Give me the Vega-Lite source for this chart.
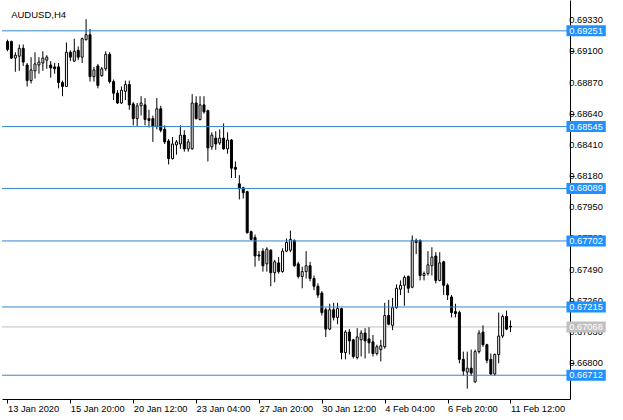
{
"$schema":"https://vega.github.io/schema/vega-lite/v6.json",
"width":568,"height":399,
"autosize":{"type":"none"},
"padding":{"left":2,"top":0,"right":53,"bottom":21},
"background":"white",
"config":{"view":{"stroke":null}},
"datasets":{
"bars":[
{"i":0,"o":0.69172,"h":0.69186,"l":0.69100,"c":0.69114},
{"i":1,"o":0.69172,"h":0.69179,"l":0.69043,"c":0.69050},
{"i":2,"o":0.69050,"h":0.69093,"l":0.68949,"c":0.69071},
{"i":3,"o":0.69064,"h":0.69150,"l":0.68956,"c":0.69122},
{"i":4,"o":0.69122,"h":0.69150,"l":0.68992,"c":0.69021},
{"i":5,"o":0.68999,"h":0.69014,"l":0.68841,"c":0.68884},
{"i":6,"o":0.68884,"h":0.69057,"l":0.68863,"c":0.68963},
{"i":7,"o":0.68956,"h":0.69093,"l":0.68899,"c":0.69007},
{"i":8,"o":0.68999,"h":0.69057,"l":0.68935,"c":0.69021},
{"i":9,"o":0.69014,"h":0.69100,"l":0.68956,"c":0.69050},
{"i":10,"o":0.69035,"h":0.69071,"l":0.68971,"c":0.69057},
{"i":11,"o":0.68999,"h":0.69028,"l":0.68906,"c":0.68978},
{"i":12,"o":0.68985,"h":0.69014,"l":0.68935,"c":0.68971},
{"i":13,"o":0.68985,"h":0.69014,"l":0.68827,"c":0.68870},
{"i":14,"o":0.68870,"h":0.68884,"l":0.68769,"c":0.68841},
{"i":15,"o":0.68841,"h":0.69165,"l":0.68841,"c":0.69093},
{"i":16,"o":0.69093,"h":0.69107,"l":0.69028,"c":0.69057},
{"i":17,"o":0.69028,"h":0.69193,"l":0.69021,"c":0.69100},
{"i":18,"o":0.69107,"h":0.69136,"l":0.69035,"c":0.69057},
{"i":19,"o":0.69057,"h":0.69201,"l":0.69014,"c":0.69193},
{"i":20,"o":0.69186,"h":0.69337,"l":0.69179,"c":0.69222},
{"i":21,"o":0.69222,"h":0.69265,"l":0.68877,"c":0.68913},
{"i":22,"o":0.68913,"h":0.68985,"l":0.68877,"c":0.68963},
{"i":23,"o":0.68992,"h":0.69007,"l":0.68827,"c":0.68848},
{"i":24,"o":0.68920,"h":0.68985,"l":0.68913,"c":0.68971},
{"i":25,"o":0.68971,"h":0.69100,"l":0.68956,"c":0.69078},
{"i":26,"o":0.69078,"h":0.69093,"l":0.68863,"c":0.68877},
{"i":27,"o":0.68877,"h":0.68892,"l":0.68741,"c":0.68791},
{"i":28,"o":0.68791,"h":0.68813,"l":0.68712,"c":0.68719},
{"i":29,"o":0.68719,"h":0.68841,"l":0.68712,"c":0.68813},
{"i":30,"o":0.68805,"h":0.68884,"l":0.68741,"c":0.68855},
{"i":31,"o":0.68855,"h":0.68884,"l":0.68669,"c":0.68705},
{"i":32,"o":0.68712,"h":0.68726,"l":0.68554,"c":0.68604},
{"i":33,"o":0.68604,"h":0.68719,"l":0.68547,"c":0.68698},
{"i":34,"o":0.68698,"h":0.68769,"l":0.68626,"c":0.68719},
{"i":35,"o":0.68705,"h":0.68755,"l":0.68554,"c":0.68597},
{"i":36,"o":0.68604,"h":0.68669,"l":0.68539,"c":0.68590},
{"i":37,"o":0.68604,"h":0.68626,"l":0.68432,"c":0.68547},
{"i":38,"o":0.68547,"h":0.68755,"l":0.68525,"c":0.68676},
{"i":39,"o":0.68676,"h":0.68698,"l":0.68503,"c":0.68518},
{"i":40,"o":0.68525,"h":0.68554,"l":0.68417,"c":0.68432},
{"i":41,"o":0.68439,"h":0.68453,"l":0.68266,"c":0.68309},
{"i":42,"o":0.68309,"h":0.68468,"l":0.68302,"c":0.68417},
{"i":43,"o":0.68410,"h":0.68446,"l":0.68338,"c":0.68432},
{"i":44,"o":0.68417,"h":0.68554,"l":0.68381,"c":0.68482},
{"i":45,"o":0.68482,"h":0.68518,"l":0.68360,"c":0.68381},
{"i":46,"o":0.68381,"h":0.68453,"l":0.68360,"c":0.68432},
{"i":47,"o":0.68381,"h":0.68784,"l":0.68374,"c":0.68719},
{"i":48,"o":0.68719,"h":0.68769,"l":0.68597,"c":0.68604},
{"i":49,"o":0.68597,"h":0.68769,"l":0.68590,"c":0.68705},
{"i":50,"o":0.68705,"h":0.68769,"l":0.68640,"c":0.68654},
{"i":51,"o":0.68662,"h":0.68669,"l":0.68288,"c":0.68388},
{"i":52,"o":0.68396,"h":0.68503,"l":0.68374,"c":0.68482},
{"i":53,"o":0.68460,"h":0.68511,"l":0.68374,"c":0.68417},
{"i":54,"o":0.68424,"h":0.68525,"l":0.68410,"c":0.68460},
{"i":55,"o":0.68460,"h":0.68568,"l":0.68374,"c":0.68381},
{"i":56,"o":0.68381,"h":0.68503,"l":0.68345,"c":0.68446},
{"i":57,"o":0.68446,"h":0.68453,"l":0.68166,"c":0.68238},
{"i":58,"o":0.68245,"h":0.68288,"l":0.68166,"c":0.68230},
{"i":59,"o":0.68123,"h":0.68187,"l":0.68008,"c":0.68087},
{"i":60,"o":0.68094,"h":0.68101,"l":0.68015,"c":0.68058},
{"i":61,"o":0.68065,"h":0.68072,"l":0.67756,"c":0.67763},
{"i":62,"o":0.67770,"h":0.67778,"l":0.67706,"c":0.67713},
{"i":63,"o":0.67727,"h":0.67749,"l":0.67512,"c":0.67591},
{"i":64,"o":0.67598,"h":0.67627,"l":0.67555,"c":0.67591},
{"i":65,"o":0.67627,"h":0.67648,"l":0.67476,"c":0.67519},
{"i":66,"o":0.67533,"h":0.67655,"l":0.67476,"c":0.67641},
{"i":67,"o":0.67634,"h":0.67641,"l":0.67368,"c":0.67468},
{"i":68,"o":0.67468,"h":0.67562,"l":0.67397,"c":0.67548},
{"i":69,"o":0.67540,"h":0.67583,"l":0.67461,"c":0.67476},
{"i":70,"o":0.67476,"h":0.67648,"l":0.67468,"c":0.67627},
{"i":71,"o":0.67627,"h":0.67720,"l":0.67619,"c":0.67691},
{"i":72,"o":0.67634,"h":0.67778,"l":0.67619,"c":0.67713},
{"i":73,"o":0.67706,"h":0.67713,"l":0.67512,"c":0.67519},
{"i":74,"o":0.67533,"h":0.67548,"l":0.67425,"c":0.67440},
{"i":75,"o":0.67440,"h":0.67512,"l":0.67353,"c":0.67476},
{"i":76,"o":0.67476,"h":0.67627,"l":0.67425,"c":0.67519},
{"i":77,"o":0.67519,"h":0.67548,"l":0.67404,"c":0.67425},
{"i":78,"o":0.67425,"h":0.67447,"l":0.67339,"c":0.67368},
{"i":79,"o":0.67368,"h":0.67389,"l":0.67282,"c":0.67303},
{"i":80,"o":0.67318,"h":0.67332,"l":0.67152,"c":0.67174},
{"i":81,"o":0.67195,"h":0.67210,"l":0.66994,"c":0.67052},
{"i":82,"o":0.67052,"h":0.67239,"l":0.67044,"c":0.67195},
{"i":83,"o":0.67195,"h":0.67246,"l":0.67116,"c":0.67138},
{"i":84,"o":0.67138,"h":0.67246,"l":0.67088,"c":0.67203},
{"i":85,"o":0.67203,"h":0.67210,"l":0.66829,"c":0.66879},
{"i":86,"o":0.66879,"h":0.67044,"l":0.66829,"c":0.67030},
{"i":87,"o":0.67030,"h":0.67052,"l":0.66865,"c":0.66965},
{"i":88,"o":0.66973,"h":0.66980,"l":0.66836,"c":0.66850},
{"i":89,"o":0.66843,"h":0.67059,"l":0.66829,"c":0.66994},
{"i":90,"o":0.66973,"h":0.67044,"l":0.66850,"c":0.67023},
{"i":91,"o":0.67023,"h":0.67059,"l":0.66836,"c":0.66965},
{"i":92,"o":0.66980,"h":0.67066,"l":0.66872,"c":0.66951},
{"i":93,"o":0.66958,"h":0.67009,"l":0.66850,"c":0.66872},
{"i":94,"o":0.66872,"h":0.66937,"l":0.66858,"c":0.66922},
{"i":95,"o":0.66901,"h":0.66973,"l":0.66814,"c":0.66929},
{"i":96,"o":0.66922,"h":0.67246,"l":0.66908,"c":0.67152},
{"i":97,"o":0.67152,"h":0.67267,"l":0.67080,"c":0.67088},
{"i":98,"o":0.67080,"h":0.67282,"l":0.67044,"c":0.67210},
{"i":99,"o":0.67210,"h":0.67382,"l":0.67203,"c":0.67353},
{"i":100,"o":0.67346,"h":0.67411,"l":0.67303,"c":0.67375},
{"i":101,"o":0.67375,"h":0.67447,"l":0.67224,"c":0.67433},
{"i":102,"o":0.67440,"h":0.67447,"l":0.67318,"c":0.67353},
{"i":103,"o":0.67361,"h":0.67742,"l":0.67353,"c":0.67706},
{"i":104,"o":0.67706,"h":0.67720,"l":0.67605,"c":0.67691},
{"i":105,"o":0.67706,"h":0.67713,"l":0.67411,"c":0.67447},
{"i":106,"o":0.67447,"h":0.67476,"l":0.67411,"c":0.67461},
{"i":107,"o":0.67461,"h":0.67627,"l":0.67447,"c":0.67526},
{"i":108,"o":0.67519,"h":0.67655,"l":0.67447,"c":0.67583},
{"i":109,"o":0.67591,"h":0.67619,"l":0.67389,"c":0.67411},
{"i":110,"o":0.67411,"h":0.67619,"l":0.67404,"c":0.67540},
{"i":111,"o":0.67548,"h":0.67555,"l":0.67303,"c":0.67375},
{"i":112,"o":0.67375,"h":0.67389,"l":0.67267,"c":0.67303},
{"i":113,"o":0.67289,"h":0.67303,"l":0.67138,"c":0.67174},
{"i":114,"o":0.67181,"h":0.67239,"l":0.67138,"c":0.67167},
{"i":115,"o":0.67174,"h":0.67188,"l":0.66800,"c":0.66829},
{"i":116,"o":0.66829,"h":0.66886,"l":0.66707,"c":0.66743},
{"i":117,"o":0.66735,"h":0.66886,"l":0.66613,"c":0.66764},
{"i":118,"o":0.66764,"h":0.66901,"l":0.66707,"c":0.66728},
{"i":119,"o":0.66663,"h":0.66901,"l":0.66656,"c":0.66886},
{"i":120,"o":0.66886,"h":0.67044,"l":0.66872,"c":0.67023},
{"i":121,"o":0.67030,"h":0.67080,"l":0.66922,"c":0.66937},
{"i":122,"o":0.66937,"h":0.66944,"l":0.66800,"c":0.66822},
{"i":123,"o":0.66829,"h":0.66872,"l":0.66714,"c":0.66721},
{"i":124,"o":0.66721,"h":0.66872,"l":0.66707,"c":0.66865},
{"i":125,"o":0.66865,"h":0.67174,"l":0.66800,"c":0.67001},
{"i":126,"o":0.67001,"h":0.67159,"l":0.66987,"c":0.67145},
{"i":127,"o":0.67145,"h":0.67188,"l":0.67044,"c":0.67052},
{"i":128,"o":0.67073,"h":0.67116,"l":0.67030,"c":0.67068}
],
"levels":[
{"p":0.69251,"kind":"level"},
{"p":0.68545,"kind":"level"},
{"p":0.68089,"kind":"level"},
{"p":0.67702,"kind":"level"},
{"p":0.67215,"kind":"level"},
{"p":0.66712,"kind":"level"},
{"p":0.67068,"kind":"bid"}
],
"ticks":[{"v":0.6933},{"v":0.691},{"v":0.6887},{"v":0.6864},{"v":0.6841},{"v":0.6818},{"v":0.6795},{"v":0.6772},{"v":0.6749},{"v":0.6726},{"v":0.6703},{"v":0.668}],
"caption":[{"t":"AUDUSD,H4"}]
},
"layer":[
{"data":{"name":"levels"},"transform":[{"filter":"datum.kind == 'bid'"}],
 "mark":{"type":"rule","color":"#c0c0c0","strokeWidth":1},
 "encoding":{"y":{"field":"p","type":"quantitative","title":null,
   "scale":{"domain":[0.665736,0.694414],"nice":false,"zero":false},
   "axis":{"orient":"right","values":[0.6933,0.691,0.6887,0.6864,0.6841,0.6818,0.6795,0.6772,0.6749,0.6726,0.6703,0.668],"labels":false,"ticks":true,"tickSize":4,"tickColor":"black","domain":true,"domainColor":"black","grid":false,"title":null}}}},
{"data":{"name":"bars"},
 "mark":{"type":"rule","color":"black","strokeWidth":1},
 "encoding":{
   "x":{"field":"i","type":"quantitative","title":null,
     "scale":{"domain":[-0.125,141.875],"nice":false,"zero":false},
     "axis":{"values":[0,16,32,48,64,80,96,112,128],"labelExpr":"['13 Jan 2020','15 Jan 20:00','20 Jan 12:00','23 Jan 04:00','27 Jan 20:00','30 Jan 12:00','4 Feb 04:00','6 Feb 20:00','11 Feb 12:00'][round(datum.value/16)]","labelAlign":"left","labelBaseline":"top","labelPadding":1,"tickSize":4,"tickColor":"black","domain":true,"domainColor":"black","grid":false,"labelFont":"Liberation Sans","labelFontSize":9.3,"labelColor":"black","labelFlush":false,"labelOverlap":false,"title":null}},
   "y":{"field":"l","type":"quantitative","title":null},
   "y2":{"field":"h"}}},
{"data":{"name":"bars"},
 "mark":{"type":"bar","orient":"vertical","size":2,"stroke":"black","strokeWidth":1},
 "encoding":{
   "x":{"field":"i","type":"quantitative","title":null},
   "y":{"field":"o","type":"quantitative","title":null},
   "y2":{"field":"c"},
   "fill":{"condition":{"test":"datum.c < datum.o","value":"black"},"value":"white"}}},
{"data":{"name":"levels"},"transform":[{"filter":"datum.kind == 'level'"}],
 "mark":{"type":"rule","color":"#3586cf","strokeWidth":1},
 "encoding":{"y":{"field":"p","type":"quantitative","title":null}}},
{"mark":{"type":"rule","color":"black","strokeWidth":1},
 "encoding":{"x":{"datum":0}}},
{"data":{"name":"ticks"},
 "mark":{"type":"text","align":"right","baseline":"middle","color":"black","font":"Liberation Sans","fontSize":9.3},
 "encoding":{
   "x":{"datum":151.5},
   "y":{"field":"v","type":"quantitative","title":null},
   "text":{"field":"v","type":"quantitative","format":".5f"}}},
{"data":{"name":"levels"},
 "mark":{"type":"bar","orient":"horizontal","size":11},
 "encoding":{
   "x":{"datum":142.25},
   "x2":{"datum":152.25},
   "y":{"field":"p","type":"quantitative","title":null},
   "color":{"field":"kind","type":"nominal","scale":{"domain":["level","bid"],"range":["#1e90ff","#c0c0c0"]},"legend":null}}},
{"data":{"name":"levels"},
 "mark":{"type":"text","align":"right","baseline":"middle","color":"white","font":"Liberation Sans","fontSize":9.3},
 "encoding":{
   "x":{"datum":151.5},
   "y":{"field":"p","type":"quantitative","title":null},
   "text":{"field":"p","type":"quantitative","format":".5f"}}},
{"data":{"name":"caption"},
 "mark":{"type":"text","align":"left","baseline":"alphabetic","color":"black","font":"Liberation Sans","fontSize":9.5},
 "encoding":{
   "x":{"datum":0.925},
   "y":{"datum":0.69344},
   "text":{"field":"t","type":"nominal"}}}
]
}
